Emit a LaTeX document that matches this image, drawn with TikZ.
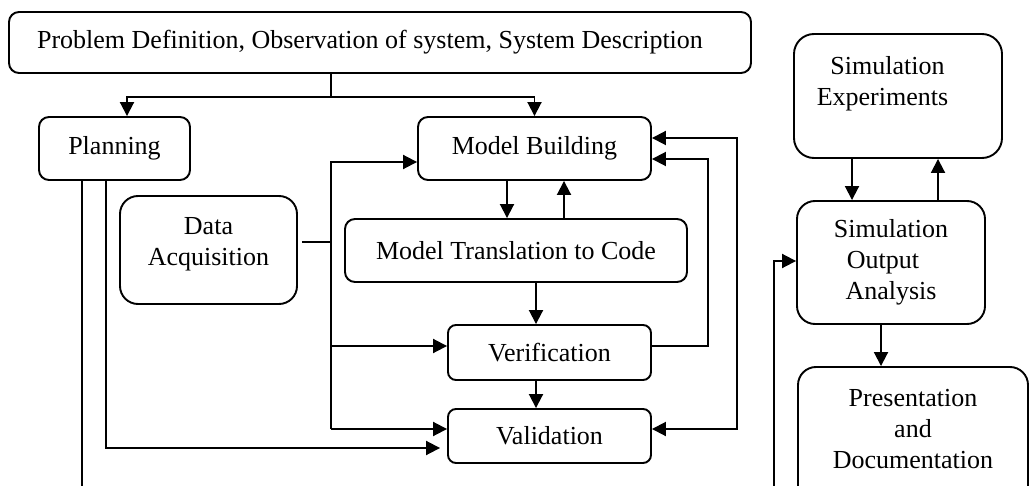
\documentclass[tikz,border=0pt]{standalone}
\usepackage{fontspec}
\setmainfont{Liberation Serif}
\usetikzlibrary{arrows.meta}
\begin{document}
\begin{tikzpicture}[x=1pt,y=-1pt,
  box/.style={draw, line width=1.9pt, rounded corners=#1, inner sep=0pt, align=center,
    font=\fontsize{26}{31}\selectfont},
  box/.default=10pt,
  arr/.style={line width=1.9pt, -{Triangle[length=14pt,width=14pt]}},
  arrb/.style={line width=1.9pt, {Triangle[length=14pt,width=14pt]}-{Triangle[length=14pt,width=14pt]}},
  ln/.style={line width=1.9pt}]
\clip (0,0) rectangle (1030,486);
\fill[white] (0,0) rectangle (1030,486);
% boxes
\node[box, minimum width=742pt, minimum height=61pt] (top) at (380,42.5) {Problem Definition, Observation of system, System Description\hspace*{20pt}\mbox{}};
\node[box, minimum width=151pt, minimum height=63pt] (plan) at (114.5,148.5) {Planning};
\node[box, minimum width=233pt, minimum height=63pt] (mb) at (534.5,148.5) {Model Building};
\node[box=18pt, minimum width=177pt, minimum height=108pt] (da) at (208.5,250) {Data\\Acquisition\\[-13pt]\mbox{}};
\node[box, minimum width=342pt, minimum height=63pt] (mtc) at (516,250.5) {Model Translation to Code};
\node[box=8pt, minimum width=203pt, minimum height=55pt] (ver) at (549.5,352.5) {Verification};
\node[box=8pt, minimum width=203pt, minimum height=54pt] (val) at (549.5,436) {Validation};
\node[box=20pt, minimum width=208pt, minimum height=124pt] (se) at (898,96) {Simulation\hspace*{21pt}\mbox{}\\Experiments\hspace*{31pt}\mbox{}\\[-1pt]\mbox{}};
\node[box=18pt, minimum width=188pt, minimum height=123pt] (soa) at (891,262.5) {Simulation\\Output\hspace*{16pt}\mbox{}\\Analysis};
\node[box=18pt, minimum width=230pt, minimum height=153pt] (pd) at (913,443.5) {Presentation\\and\\Documentation\\[-2pt]\mbox{}};
% coordinates
\coordinate (j1) at (331,97);
\coordinate (pa) at (127,97);
\coordinate (pb1) at (82,500);
\coordinate (pb2) at (106,448);
\coordinate (dj) at (331,242);
\coordinate (b1) at (331,162);
\coordinate (b2) at (331,346);
\coordinate (b3) at (331,429);
\coordinate (c1) at (507,0);
\coordinate (c2) at (564,0);
\coordinate (c3) at (536,0);
\coordinate (f1) at (708,346);
\coordinate (f2) at (708,159);
\coordinate (g1) at (737,429);
\coordinate (g2) at (737,138);
\coordinate (s1) at (852,0);
\coordinate (s2) at (938,0);
\coordinate (s3) at (881,0);
\coordinate (h1) at (774,500);
\coordinate (h2) at (774,261);
% connectors
\draw[ln] (top.south -| j1) -- (j1);
\draw[arr] (j1) -- (pa) -- (pa |- plan.north);
\draw[arr] (j1) -| (mb.north);
\draw[ln] (plan.south -| pb1) -- (pb1);
\draw[arr] (plan.south -| pb2) -- (pb2) -- ([xshift=-7pt]val.west |- pb2);
\draw[ln, shorten <=4pt] (da.east |- dj) -- (dj);
\draw[arr] (b3) -- (b1) -- (mb.west |- b1);
\draw[arr] (b2) -- (ver.west |- b2);
\draw[arr] (b3) -- (val.west |- b3);
\draw[arr] (mb.south -| c1) -- (mtc.north -| c1);
\draw[arr] (mtc.north -| c2) -- (mb.south -| c2);
\draw[arr] (mtc.south -| c3) -- (ver.north -| c3);
\draw[arr] (ver.south -| c3) -- (val.north -| c3);
\draw[arr] (ver.east |- f1) -- (f1) -- (f2) -- (mb.east |- f2);
\draw[arrb] (mb.east |- g2) -- (g2) -- (g1) -- (val.east |- g1);
\draw[arr] (se.south -| s1) -- (soa.north -| s1);
\draw[arr] (soa.north -| s2) -- (se.south -| s2);
\draw[arr] (soa.south -| s3) -- (pd.north -| s3);
\draw[arr] (h1) -- (h2) -- (soa.west |- h2);
\end{tikzpicture}
\end{document}
